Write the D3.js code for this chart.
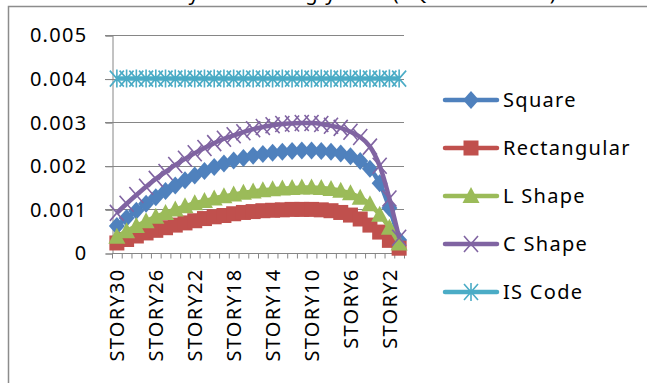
<!DOCTYPE html>
<html>
<head>
<meta charset="utf-8">
<script src="https://cdn.jsdelivr.net/npm/d3@7/dist/d3.min.js"></script>
<style>
  body { margin: 0; background: #fff; }
  text { font-family: "Noto Sans", sans-serif; font-size: 20px; letter-spacing: 1.3px; fill: #000; }
</style>
</head>
<body>
<div id="theGraph"></div>
<script>
const stories = ["STORY30","STORY29","STORY28","STORY27","STORY26","STORY25","STORY24","STORY23","STORY22","STORY21",
  "STORY20","STORY19","STORY18","STORY17","STORY16","STORY15","STORY14","STORY13","STORY12","STORY11",
  "STORY10","STORY9","STORY8","STORY7","STORY6","STORY5","STORY4","STORY3","STORY2","STORY1"];
const shownLabels = ["STORY30","STORY26","STORY22","STORY18","STORY14","STORY10","STORY6","STORY2"];
const yTicks = [0, 0.001, 0.002, 0.003, 0.004, 0.005];

const square = [0.00062,0.00080,0.00097,0.00113,0.00128,0.00142,0.00155,0.00167,0.00178,0.00188,
  0.00197,0.00205,0.00212,0.00218,0.00223,0.00227,0.00230,0.00232,0.00234,0.00235,
  0.00235,0.00234,0.00232,0.00228,0.00222,0.00211,0.00193,0.00160,0.00103,0.00030];
const rectangular = [0.00023,0.00031,0.00039,0.00046,0.00052,0.00058,0.00064,0.00069,0.00074,0.00079,
  0.00083,0.00086,0.00090,0.00093,0.00095,0.00097,0.00098,0.00099,0.00100,0.00100,
  0.00100,0.00099,0.00097,0.00093,0.00087,0.00078,0.00064,0.00048,0.00029,0.00011];
const lShape = [0.00037,0.00050,0.00062,0.00073,0.00083,0.00092,0.00100,0.00107,0.00114,0.00119,
  0.00125,0.00130,0.00134,0.00138,0.00141,0.00144,0.00146,0.00148,0.00149,0.00150,
  0.00150,0.00149,0.00147,0.00143,0.00137,0.00127,0.00112,0.00088,0.00058,0.00022];
const cShape = [0.00092,0.00113,0.00133,0.00152,0.00170,0.00186,0.00202,0.00216,0.00229,0.00241,
  0.00252,0.00262,0.00270,0.00277,0.00284,0.00289,0.00293,0.00296,0.00297,0.00298,
  0.00298,0.00296,0.00292,0.00287,0.00278,0.00266,0.00244,0.00200,0.00125,0.00035];
const isCode = [0.004,0.004,0.004,0.004,0.004,0.004,0.004,0.004,0.004,0.004,
  0.004,0.004,0.004,0.004,0.004,0.004,0.004,0.004,0.004,0.004,
  0.004,0.004,0.004,0.004,0.004,0.004,0.004,0.004,0.004,0.004];

const seriesNames = ["Square","Rectangular","L Shape","C Shape","IS Code"];
const seriesColors = ["#4F81BD","#C0504D","#9BBB59","#8064A2","#4BACC6"];
const seriesMarkers = ["diamond","square","triangle","cross","star"];
const seriesValues = [square, rectangular, lShape, cShape, isCode];

const width = 647, height = 383;
const plot = {left: 112, right: 404, top: 35, bottom: 253};

const svg = d3.select("#theGraph").append("svg").attr("width", width).attr("height", height);

const xScale = d3.scaleBand().domain(stories).range([plot.left, plot.right]).padding(0);
const yScale = d3.scaleLinear().domain([0, 0.005]).range([plot.bottom, plot.top]);
const cx = d => xScale(d) + xScale.bandwidth() / 2;

// outer frame and clipped title
svg.append("path").attr("d", "M8.5,383V6.5H647").attr("fill", "none").attr("stroke", "#8c8c8c").attr("stroke-width", 1.5);
svg.append("text").attr("x", 345).attr("y", 0).attr("text-anchor", "middle")
  .text("Storey drift along y-axis (EQ Y direction)");

// gridlines
svg.append("g").selectAll("line").data(yTicks.filter(d => d > 0)).enter().append("line")
  .attr("x1", plot.left - 7).attr("x2", plot.right)
  .attr("y1", d => Math.round(yScale(d)) + 0.5).attr("y2", d => Math.round(yScale(d)) + 0.5)
  .attr("stroke", "#868686").attr("stroke-width", 1);

// y axis
const yAxis = d3.axisLeft(yScale).tickValues(yTicks).tickSize(7).tickPadding(18)
  .tickFormat(d => d === 0 ? "0" : d3.format(".3f")(d));
const yG = svg.append("g").attr("transform", "translate(" + (plot.left + 0.5) + ",0.5)").call(yAxis);
yG.select(".domain").attr("stroke", "#868686");
yG.selectAll(".tick line").attr("stroke", "#868686");
yG.selectAll("text").style("font-family", "Noto Sans").style("font-size", "20px").attr("fill", "#000");

// x axis
const xAxis = d3.axisBottom(xScale).tickSize(0).tickFormat(d => shownLabels.includes(d) ? d : "");
const xG = svg.append("g").attr("transform", "translate(0," + (plot.bottom + 0.5) + ")").call(xAxis);
xG.select(".domain").attr("stroke", "#868686").attr("d", "M" + plot.left + ",0H" + plot.right);
xG.selectAll("text").style("font-family", "Noto Sans").style("font-size", "20px").attr("fill", "#000")
  .attr("transform", "rotate(-90)").attr("text-anchor", "end")
  .attr("x", -15).attr("y", 0).attr("dy", "0.36em");
xG.append("g").selectAll("line").data(d3.range(stories.length + 1)).enter().append("line")
  .attr("x1", i => plot.left + i * xScale.bandwidth() + 0.5).attr("x2", i => plot.left + i * xScale.bandwidth() + 0.5)
  .attr("y1", 0).attr("y2", 5).attr("stroke", "#868686");

function marker(sel, type, color) {
  if (type === "diamond") {
    sel.append("path").attr("d", "M0,-9L8,0L0,9L-8,0Z").attr("fill", color);
  } else if (type === "square") {
    sel.append("rect").attr("x", -7.5).attr("y", -7.5).attr("width", 15).attr("height", 15).attr("fill", color);
  } else if (type === "triangle") {
    sel.append("path").attr("d", "M0,-9L8.5,7L-8.5,7Z").attr("fill", color);
  } else if (type === "cross") {
    sel.append("path").attr("d", "M-7,-8L7,8M-7,8L7,-8").attr("stroke", color).attr("stroke-width", 1.6);
  } else {
    sel.append("path").attr("d", "M-7,-8L7,8M-7,8L7,-8M0,-9V9").attr("stroke", color).attr("stroke-width", 1.6);
  }
}

const line = d3.line().curve(d3.curveCatmullRom.alpha(0.5)).x(d => cx(d[0])).y(d => yScale(d[1]));

seriesValues.forEach((vals, k) => {
  const pts = stories.map((s, i) => [s, vals[i]]);
  const g = svg.append("g");
  g.append("path").attr("d", line(pts)).attr("fill", "none")
    .attr("stroke", seriesColors[k]).attr("stroke-width", 4.5).attr("stroke-linejoin", "round");
  g.selectAll(".m").data(pts).enter().append("g").attr("class", "m")
    .attr("transform", d => "translate(" + cx(d[0]) + "," + yScale(d[1]) + ")")
    .each(function() { marker(d3.select(this), seriesMarkers[k], seriesColors[k]); });
});

// legend
const legend = svg.append("g").selectAll("g").data(seriesNames).enter().append("g")
  .attr("transform", (d, i) => "translate(0," + (100 + i * 48) + ")");
legend.append("line").attr("x1", 445).attr("x2", 497).attr("y1", 0).attr("y2", 0)
  .attr("stroke", (d, i) => seriesColors[i]).attr("stroke-width", 4.5).attr("stroke-linecap", "round");
legend.append("g").attr("transform", "translate(471,0)")
  .each(function(d, i) { marker(d3.select(this), seriesMarkers[i], seriesColors[i]); });
legend.append("text").attr("x", 503).attr("y", 7).text(d => d);
</script>
</body>
</html>
